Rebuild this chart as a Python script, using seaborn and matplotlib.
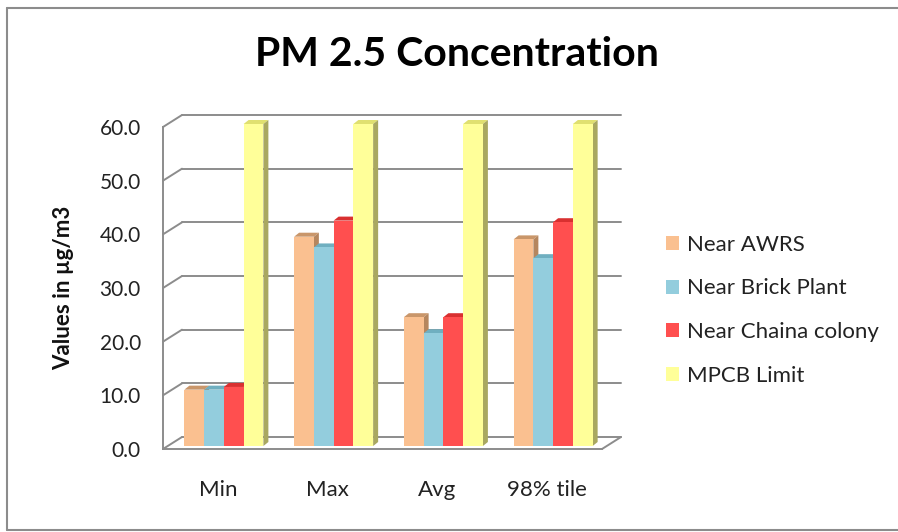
import matplotlib
matplotlib.use("Agg")
import matplotlib.pyplot as plt
from matplotlib.colors import to_hex
from matplotlib.patches import Polygon, Patch
from matplotlib.lines import Line2D
from matplotlib.transforms import IdentityTransform, offset_copy
import seaborn as sns
import pandas as pd

# ---- data -------------------------------------------------------------
stats = ["Min", "Max", "Avg", "98% tile"]
sites = ["Near AWRS", "Near Brick Plant", "Near Chaina colony", "MPCB Limit"]
near_awrs = [10.5, 39.0, 24.0, 38.5]
near_brick_plant = [10.5, 37.0, 21.0, 35.0]
near_chaina_colony = [11.0, 42.0, 24.0, 41.7]
mpcb_limit = [60.0, 60.0, 60.0, 60.0]
y_ticks = [0, 10, 20, 30, 40, 50, 60]

front_colors = ["#FAC090", "#93CDDD", "#FF4F4F", "#FFFF99"]
top_colors = ["#C9966A", "#6FAFC0", "#D93030", "#E0E070"]
side_colors = ["#B5865E", "#5E9AAA", "#B82828", "#A9A860"]

df = pd.DataFrame({
    "stat": stats * 4,
    "site": [s for s in sites for _ in stats],
    "value": near_awrs + near_brick_plant + near_chaina_colony + mpcb_limit,
})

# ---- figure -----------------------------------------------------------
DPI = 100
W, H = 898, 532
sns.set_theme(style="white")
plt.rcParams["font.family"] = ["Lato", "DejaVu Sans"]

fig = plt.figure(figsize=(W / DPI, H / DPI), dpi=DPI)
fig.patch.set_facecolor("white")

# front plane of the plot box, in pixels
x0_px, x1_px = 163, 602
y0_px, y60_px = 449, 127
ax = fig.add_axes([x0_px / W, (H - y0_px) / H, (x1_px - x0_px) / W, (y0_px - y60_px) / H])
ax.set_facecolor("none")

sns.barplot(data=df, x="stat", y="value", hue="site", order=stats, hue_order=sites,
            palette=front_colors, saturation=1, width=0.72, ax=ax, legend=False,
            edgecolor="none", linewidth=0)

ax.set_ylim(0, 60)
ax.set_xlim(-0.5, len(stats) - 0.5)
ax.set_yticks(y_ticks)
ax.set_yticklabels([f"{v:.1f}" for v in y_ticks], fontsize=15, color="#222222")
for lbl in ax.get_yticklabels():
    lbl.set_va("center_baseline")
ax.tick_params(axis="y", length=0, pad=16)
ax.tick_params(axis="x", length=0, pad=22, labelsize=16, labelcolor="#222222")
ax.set_xlabel("")
ax.set_ylabel("Values in µg/m3", fontsize=16, fontweight="bold", color="#111111", labelpad=18)
for side in ["top", "right"]:
    ax.spines[side].set_visible(False)
for side in ["left", "bottom"]:
    ax.spines[side].set_color("#8C8C8C")
    ax.spines[side].set_linewidth(1.4)
    ax.spines[side].set_zorder(0.5)
ax.grid(False)

fig.canvas.draw()
to_px = ax.transData.transform

# depth offsets (pixels, display y points up)
wall_dx, wall_dy = 19, 12
bar_dx, bar_dy = 5, 4
bar_shift_x, bar_shift_y = 6, 3

grid_kw = dict(color="#8C8C8C", lw=1.4, transform=IdentityTransform(), zorder=0.4, clip_on=False)
xmin, xmax = ax.get_xlim()
for v in y_ticks:
    (fx, fy) = to_px((xmin, v))
    (gx, gy) = to_px((xmax, v))
    # back-wall gridline
    ax.add_line(Line2D([fx + wall_dx, gx + wall_dx], [fy + wall_dy, gy + wall_dy], **grid_kw))
    # diagonal on the side wall
    ax.add_line(Line2D([fx, fx + wall_dx], [fy, fy + wall_dy], **grid_kw))
# floor right edge
(rx, ry) = to_px((xmax, 0))
ax.add_line(Line2D([rx, rx + wall_dx], [ry, ry + wall_dy], **grid_kw))

# extrude the bars: front face shifted into the box, then top and side faces
shifted = offset_copy(ax.transData, fig=fig, x=bar_shift_x, y=bar_shift_y, units="dots")
bars = sorted(ax.patches, key=lambda p: p.get_x())
for i, bar in enumerate(bars):
    hexcol = to_hex(bar.get_facecolor()).upper()
    color_idx = front_colors.index(hexcol) if hexcol in front_colors else 0
    z = 2 + i * 0.01
    bar.set_transform(shifted)
    bar.set_zorder(z + 0.005)
    bar.set_clip_on(False)
    bx0, bx1 = bar.get_x(), bar.get_x() + bar.get_width()
    top = bar.get_height()
    (ax0, ay0) = to_px((bx0, 0))
    (ax1, ay1) = to_px((bx1, top))
    ax0 += bar_shift_x; ax1 += bar_shift_x
    ay0 += bar_shift_y; ay1 += bar_shift_y
    top_face = Polygon([(ax0, ay1), (ax1, ay1), (ax1 + bar_dx, ay1 + bar_dy), (ax0 + bar_dx, ay1 + bar_dy)],
                       closed=True, facecolor=top_colors[color_idx], edgecolor="none",
                       transform=IdentityTransform(), zorder=z, clip_on=False)
    side_face = Polygon([(ax1, ay0), (ax1, ay1), (ax1 + bar_dx, ay1 + bar_dy), (ax1 + bar_dx, ay0 + bar_dy)],
                        closed=True, facecolor=side_colors[color_idx], edgecolor="none",
                        transform=IdentityTransform(), zorder=z, clip_on=False)
    ax.add_artist(top_face)
    ax.add_artist(side_face)

# ---- title, legend, frame --------------------------------------------
fig.text(457 / W, 1 - 55 / H, "PM 2.5 Concentration", ha="center", va="center",
         fontsize=29.5, fontweight="bold", color="#000000")

handles = [Patch(facecolor=c, edgecolor="none", label=s) for c, s in zip(front_colors, sites)]
fig.legend(handles=handles, loc="upper left", bbox_to_anchor=(657 / W, 1 - 226 / H),
           frameon=False, fontsize=16, handlelength=0.6, handleheight=0.6,
           handletextpad=0.35, labelspacing=1.06, borderaxespad=0, labelcolor="#222222")

frame_kw = dict(color="#8C8C8C", lw=1.5, transform=IdentityTransform(), zorder=5)
fig.add_artist(Line2D([7, 7], [H - 8, 2], **frame_kw))
fig.add_artist(Line2D([7, W], [H - 8, H - 8], **frame_kw))
fig.add_artist(Line2D([7, W], [2, 2], **frame_kw))

fig.savefig("out.png", dpi=DPI, facecolor="white")
